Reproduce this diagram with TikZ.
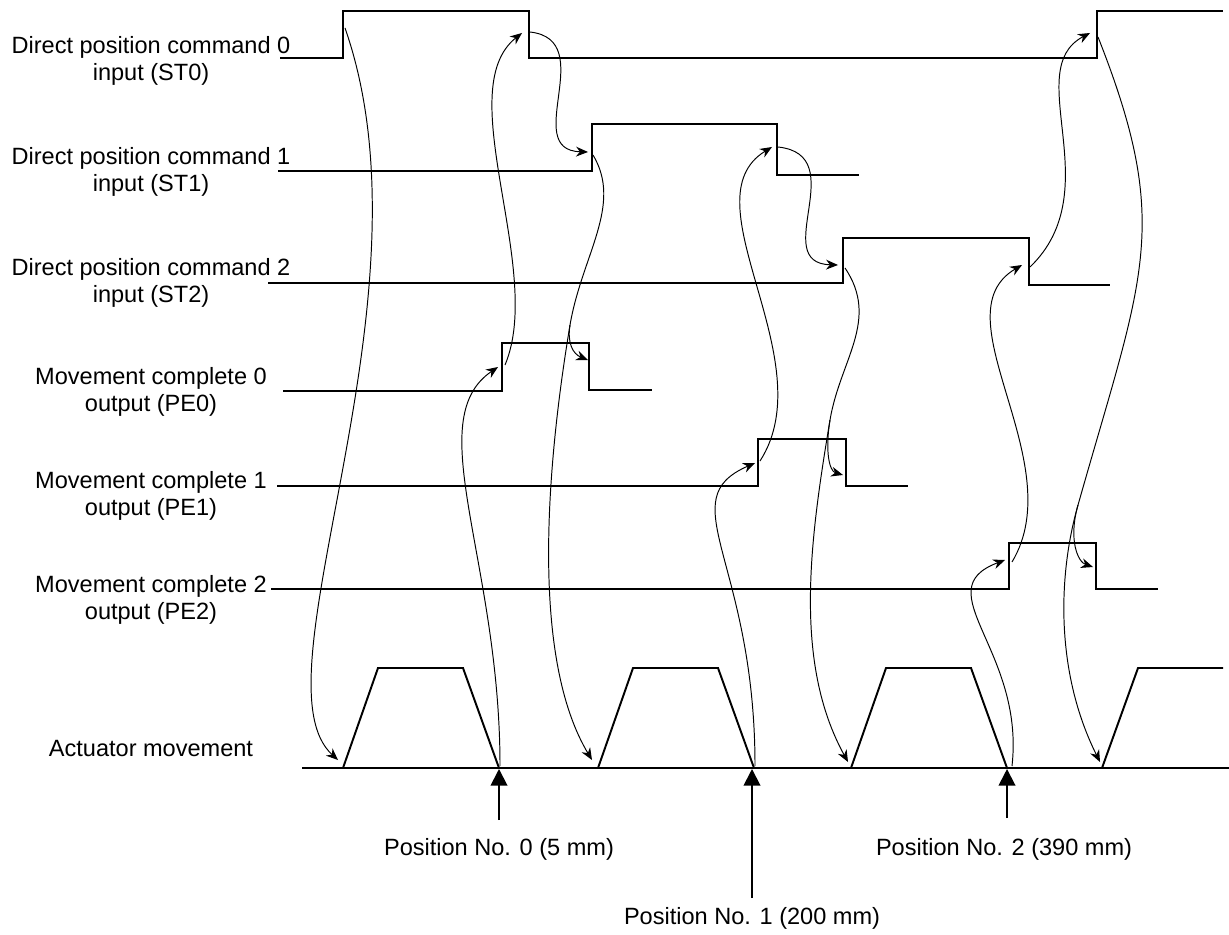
\documentclass[tikz,border=0pt]{standalone}
\usepackage{fontspec}
\setmainfont{Liberation Sans}
\usetikzlibrary{arrows.meta}

\begin{document}
\begin{tikzpicture}[x=0.02cm,y=-0.02cm,
  sig/.style={line width=1.1pt},
  link/.style={line width=0.55pt,-{Stealth[length=6.8pt,width=5.6pt,inset=2.2pt]}},
  lbl/.style={align=center,anchor=north,inner sep=0pt,font=\fontsize{13.4}{15.3}\selectfont},
  posarrow/.style={line width=1.1pt,-{Triangle[length=9.5pt,width=9.5pt]}}]
  \useasboundingbox (0,0) rectangle (1229,935);
  % signal names
  \node[lbl] (st0) at (151,36) {Direct position command 0\\input (ST0)};
  \node[lbl] (st1) at (151,147) {Direct position command 1\\input (ST1)};
  \node[lbl] (st2) at (151,258) {Direct position command 2\\input (ST2)};
  \node[lbl] (pe0) at (151,367) {Movement complete 0\\output (PE0)};
  \node[lbl] (pe1) at (151,471) {Movement complete 1\\output (PE1)};
  \node[lbl] (pe2) at (151,575) {Movement complete 2\\output (PE2)};
  \node[lbl] (act) at (151,740) {Actuator movement};
  % waveforms
  \draw[sig] (280,58) -- (343,58) -- (343,11) -- (529,11) -- (529,58) -- (1097,58) -- (1097,11) -- (1223,11);
  \draw[sig] (278,171) -- (592,171) -- (592,124) -- (777,124) -- (777,175) -- (859,175);
  \draw[sig] (268,283) -- (843,283) -- (843,238) -- (1029,238) -- (1029,285) -- (1110,285);
  \draw[sig] (283,391) -- (502,391) -- (502,343) -- (589,343) -- (589,390) -- (652,390);
  \draw[sig] (277,486) -- (758,486) -- (758,439) -- (846,439) -- (846,486) -- (908,486);
  \draw[sig] (271,589) -- (1009,589) -- (1009,543) -- (1096,543) -- (1096,589) -- (1158,589);
  % actuator
  \draw[sig] (302,768) -- (1229,768);
  \foreach \a in {343,598,851}
    \draw[sig] (\a,768) -- ++(35,-100) -- ++(85,0) -- ++(36,100);
  \draw[sig] (1102,768) -- ++(36,-100) -- (1223,668);
  % sequence links
  \coordinate (a1) at (345,28);   \coordinate (a2) at (338,760);
  \coordinate (b1) at (500,766);  \coordinate (b2) at (498,367);
  \coordinate (c1) at (505,365);  \coordinate (c2) at (522,33);
  \coordinate (d1) at (530,32);   \coordinate (d2) at (588,152);
  \coordinate (e1) at (593,155);  \coordinate (e2) at (588,360);
  \coordinate (fe) at (570,325);  \coordinate (f2) at (592,760);
  \coordinate (g1) at (755,766);  \coordinate (g2) at (755,463);
  \coordinate (h1) at (760,461);  \coordinate (h2) at (772,147);
  \coordinate (i1) at (778,147);  \coordinate (i2) at (838,265);
  \coordinate (j1) at (845,268);  \coordinate (j2) at (843,475);
  \coordinate (fj) at (830,420);  \coordinate (k2) at (848,762);
  \coordinate (l1) at (1012,766); \coordinate (l2) at (1005,560);
  \coordinate (m1) at (1012,562); \coordinate (m2) at (1022,265);
  \coordinate (n1) at (1030,267); \coordinate (n2) at (1090,33);
  \coordinate (o1) at (1098,37);  \coordinate (o2) at (1093,567);
  \coordinate (fo) at (1078,505); \coordinate (p2) at (1100,762);
  \draw[link] (a1) .. controls +(95,272) and +(-88,-80) .. (a2);
  \draw[link] (b1) .. controls +(0,-206) and +(-78,53) .. (b2);
  \draw[link] (c1) .. controls +(40,-95) and +(-72,57) .. (c2);
  \draw[link] (d1) .. controls +(70,8) and +(-68,-2) .. (d2);
  \draw[link] (e1) .. controls +(30,50) and +(12,-70) .. (fe) .. controls +(-3,18) and +(-15,-6) .. (e2);
  \draw[link] (fe) .. controls +(-25,150) and +(-60,-100) .. (f2);
  \draw[link] (g1) .. controls +(0,-206) and +(-85,37) .. (g2);
  \draw[link] (h1) .. controls +(65,-101) and +(-87,53) .. (h2);
  \draw[link] (i1) .. controls +(75,8) and +(-70,-2) .. (i2);
  \draw[link] (j1) .. controls +(35,52) and +(10,-60) .. (fj) .. controls +(-5,30) and +(-14,-4) .. (j2);
  \draw[link] (fj) .. controls +(-20,120) and +(-55,-100) .. (k2);
  \draw[link] (l1) .. controls +(13,-116) and +(-80,30) .. (l2);
  \draw[link] (m1) .. controls +(60,-100) and +(-85,50) .. (m2);
  \draw[link] (n1) .. controls +(80,-77) and +(-70,37) .. (n2);
  \draw[link] (o1) .. controls +(75,190) and +(65,-230) .. (fo) .. controls +(-10,35) and +(-15,-5) .. (o2);
  \draw[link] (fo) .. controls +(-20,70) and +(-45,-90) .. (p2);
  % target positions
  \node[lbl] (pos0) at (499,838) {Position No. 0 (5 mm)};
  \node[lbl] (pos1) at (752,907) {Position No. 1 (200 mm)};
  \node[lbl] (pos2) at (1004,838) {Position No. 2 (390 mm)};
  \coordinate (q0) at (499,769); \coordinate (r0) at (499,820);
  \coordinate (q1) at (752,769); \coordinate (r1) at (752,898);
  \coordinate (q2) at (1007,769); \coordinate (r2) at (1007,818);
  \draw[posarrow] (r0) -- (q0);
  \draw[posarrow] (r1) -- (q1);
  \draw[posarrow] (r2) -- (q2);
\end{tikzpicture}
\end{document}
